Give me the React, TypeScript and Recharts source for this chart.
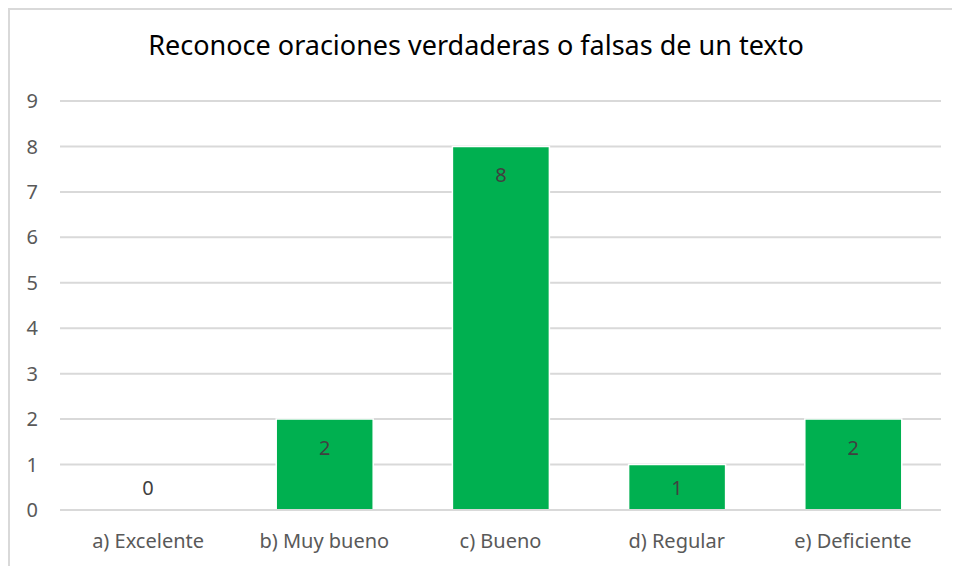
import React from 'react';
import { ComposedChart, Bar, Line, XAxis, YAxis, CartesianGrid, LabelList } from 'recharts';

const categories = ['a) Excelente', 'b) Muy bueno', 'c) Bueno', 'd) Regular', 'e) Deficiente'];
const values = [0, 2, 8, 1, 2];
const yTicks = [0, 1, 2, 3, 4, 5, 6, 7, 8, 9];

const data = categories.map((name, i) => ({ name, value: values[i] }));

const FONT = '"Noto Sans", "Open Sans", sans-serif';

// Excel puts the label inside the top of the bar (centred when the bar is short)
const renderBarLabel = (props: any) => {
  const { x, y, width, height, value } = props;
  if (!value) return null;
  const cx = Number(x) + Number(width) / 2;
  const ty = Number(y) + Math.min(28, Number(height) / 2);
  return (
    <text x={cx} y={ty} textAnchor="middle" dominantBaseline="central" fill="#404040" fontSize={20} fontFamily={FONT}>
      {value}
    </text>
  );
};

// zero bars have no rect, so their label hangs off an invisible line just above the axis
const renderZeroLabel = (props: any) => {
  const { x, y, value } = props;
  if (value !== 0) return null;
  return (
    <text x={x} y={Number(y) - 23} textAnchor="middle" dominantBaseline="central" fill="#404040" fontSize={20} fontFamily={FONT}>
      {value}
    </text>
  );
};

const App: React.FC = () => {
  return (
    <div
      style={{
        position: 'relative',
        width: 960,
        height: 570,
        border: '2px solid #d9d9d9',
        background: '#fff',
        fontFamily: FONT,
      }}
    >
      <div
        style={{
          position: 'absolute',
          top: 16,
          left: 0,
          width: 932,
          textAlign: 'center',
          fontSize: 27,
          color: '#000',
        }}
      >
        Reconoce oraciones verdaderas o falsas de un texto
      </div>
      <ComposedChart
        width={952}
        height={556}
        data={data}
        margin={{ top: 91, right: 21, bottom: 26, left: 0 }}
      >
        <CartesianGrid vertical={false} stroke="#d9d9d9" strokeWidth={2} />
        <XAxis
          dataKey="name"
          axisLine={{ stroke: '#d9d9d9', strokeWidth: 2 }}
          tickLine={false}
          height={30}
          tickMargin={18}
          tick={{ fill: '#595959', fontSize: 20, fontFamily: FONT }}
        />
        <YAxis
          domain={[0, 9]}
          ticks={yTicks}
          width={50}
          axisLine={false}
          tickLine={false}
          tickMargin={16}
          tick={{ fill: '#595959', fontSize: 20, fontFamily: FONT }}
        />
        <Bar dataKey="value" fill="#00b050" stroke="#fff" strokeWidth={1.5} barSize={97} isAnimationActive={false}>
          <LabelList dataKey="value" content={renderBarLabel} />
        </Bar>
        <Line dataKey="value" stroke="none" dot={false} activeDot={false} isAnimationActive={false}>
          <LabelList dataKey="value" content={renderZeroLabel} />
        </Line>
      </ComposedChart>
    </div>
  );
};

export default App;
